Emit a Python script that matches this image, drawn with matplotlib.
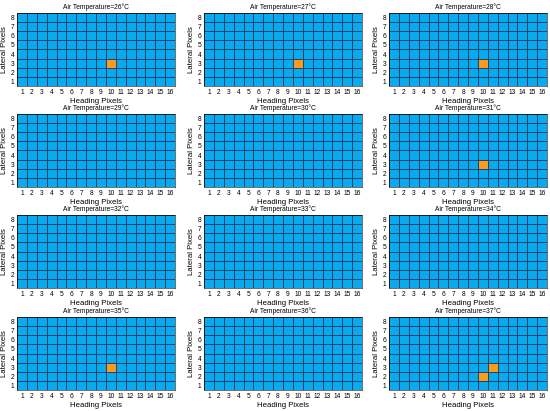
import numpy as np
import matplotlib
matplotlib.use("Agg")
import matplotlib.pyplot as plt
from matplotlib.colors import ListedColormap

plt.rcParams['font.family'] = ['Liberation Sans', 'DejaVu Sans']

temps = [26, 27, 28, 29, 30, 31, 32, 33, 34, 35, 36, 37]
# (heading, lateral) of the flagged pixels per air temperature
hot_cells = [
    [(10, 3)], [(10, 3)], [(10, 3)],
    [], [], [(10, 3)],
    [], [], [],
    [(10, 3)], [], [(10, 2), (11, 3)],
]
n_heading = 16
n_lateral = 8
heading_ticks = list(range(1, 17))
lateral_ticks = list(range(1, 9))

cmap = ListedColormap(['#0AAAF0', '#FF9A1A'])

fig = plt.figure(figsize=(5.5, 4.11), dpi=100)

col_left = [17, 204, 389]
row_top = [13, 114, 215, 317]
ax_w, ax_h = 158, 73
W, H = 550, 411

for i, t in enumerate(temps):
    r, c = divmod(i, 3)
    ax = fig.add_axes([col_left[c] / W, 1 - (row_top[r] + ax_h) / H, ax_w / W, ax_h / H])
    grid = np.zeros((n_lateral, n_heading))
    for hx, ly in hot_cells[i]:
        grid[ly - 1, hx - 1] = 1
    xe = np.arange(0.5, n_heading + 1)
    ye = np.arange(0.5, n_lateral + 1)
    ax.pcolormesh(xe, ye, grid, cmap=cmap, vmin=0, vmax=1,
                  edgecolors='#1a4666', linewidth=0.5)
    ax.set_xlim(0.5, n_heading + 0.5)
    ax.set_ylim(0.5, n_lateral + 0.5)
    ax.set_xticks(heading_ticks)
    ax.set_yticks(lateral_ticks)
    ax.tick_params(length=0, labelsize=4.8, pad=2)
    for s in ax.spines.values():
        s.set_linewidth(0.4)
    ax.set_title(f"Air Temperature={t}°C", fontsize=4.8, pad=3)
    ax.set_xlabel("Heading Pixels", fontsize=5.6, labelpad=1.5)
    ax.set_ylabel("Lateral Pixels", fontsize=5.6, labelpad=2)

fig.savefig("out.png", dpi=100)
